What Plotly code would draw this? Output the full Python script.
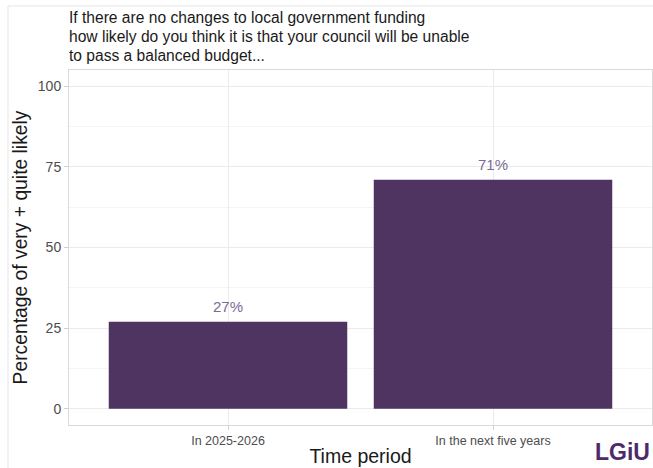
import plotly.graph_objects as go

categories = ["In 2025-2026", "In the next five years"]
values = [27, 71]
labels = ["27%", "71%"]
y_ticks = [0, 25, 50, 75, 100]
title_lines = [
    "If there are no changes to local government funding",
    "how likely do you think it is that your council will be unable",
    "to pass a balanced budget...",
]

BAR = "#4f3360"
LABEL = "#7b6a93"
GRID = "#ebebeb"
TEXT = "#4d4d4d"
FONT = "Liberation Sans, Arial, sans-serif"

W, H = 653, 468
ML, MR, MT, MB = 69, 1, 70, 43
pw, ph = W - ML - MR, H - MT - MB


def px_x(px):
    return (px - ML) / pw


def px_y(py):
    return (MT + ph - py) / ph


fig = go.Figure()
fig.add_trace(go.Bar(x=categories, y=values, marker=dict(color=BAR, line=dict(width=0)),
                     hoverinfo="skip"))

for c, v, t in zip(categories, values, labels):
    fig.add_annotation(x=c, y=v, text=t, showarrow=False, yanchor="bottom", yshift=5,
                       font=dict(family=FONT, size=15, color=LABEL))

# title lines
for i, line in enumerate(title_lines):
    fig.add_annotation(xref="paper", yref="paper", x=px_x(67), y=px_y(18 + 18.5 * i),
                       text=line, showarrow=False, xanchor="left", yanchor="middle",
                       font=dict(family=FONT, size=15.6, color="#1a1a1a"))

# logo
fig.add_annotation(xref="paper", yref="paper", x=px_x(W - 1), y=px_y(H - 1),
                   text="<b>LGiU</b>", showarrow=False, xanchor="right", yanchor="bottom",
                   font=dict(family=FONT, size=23, color="#4e2a6a"))

# faint outer frame
fx0 = px_x(8)
fy1 = px_y(6)
fig.add_shape(type="line", xref="paper", yref="paper", x0=fx0, x1=px_x(W + 5), y0=fy1, y1=fy1,
              line=dict(color="#eeeeee", width=1.5))
fig.add_shape(type="line", xref="paper", yref="paper", x0=fx0, x1=fx0, y0=fy1, y1=px_y(H + 5),
              line=dict(color="#eeeeee", width=1.5))

fig.update_layout(
    width=W, height=H,
    margin=dict(l=ML, r=MR, t=MT, b=MB),
    paper_bgcolor="white", plot_bgcolor="white",
    bargap=0.1,
    showlegend=False,
    font=dict(family=FONT, color=TEXT),
)
fig.update_xaxes(
    range=[-0.6, 1.6], showgrid=True, gridcolor=GRID, gridwidth=1,
    showline=True, mirror=True, linecolor="#d9d9d9", linewidth=1,
    ticks="outside", ticklen=4, tickcolor="#d0d0d0",
    tickfont=dict(family=FONT, size=12.5, color=TEXT),
    title=dict(text="Time period", font=dict(family=FONT, size=19.5, color="#1a1a1a"), standoff=2),
)
fig.update_yaxes(
    range=[-5, 105], tickvals=y_ticks, showgrid=True, gridcolor=GRID, gridwidth=1,
    minor=dict(tickvals=[12.5, 37.5, 62.5, 87.5], showgrid=True, gridcolor="#f4f4f4", gridwidth=1),
    zeroline=False,
    showline=True, mirror=True, linecolor="#d9d9d9", linewidth=1,
    ticks="outside", ticklen=4, tickcolor="#d0d0d0",
    tickfont=dict(family=FONT, size=14, color=TEXT),
    title=dict(text="Percentage of very + quite likely", font=dict(family=FONT, size=19.3, color="#1a1a1a"), standoff=5),
)

fig.write_html("out.html")
